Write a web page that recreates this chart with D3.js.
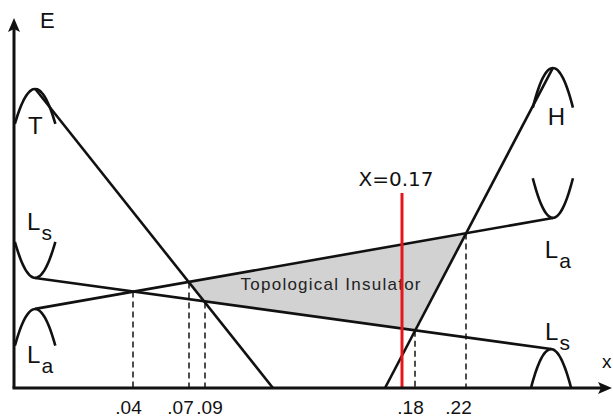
<!DOCTYPE html>
<html>
<head>
<meta charset="utf-8">
<script src="https://cdn.jsdelivr.net/npm/d3@7"></script>
<style>
    body { margin: 0; background: #fff; }
    svg { display: block; font-family: "Liberation Sans", Arial, sans-serif; }
</style>
</head>
<body>
<svg id="chart" width="613" height="418"></svg>
<script>
// labelled compositions on the (schematic, not to scale) x axis
const tickValues = [0.04, 0.07, 0.09, 0.18, 0.22];
const tickLabels = ['.04', '.07', '.09', '.18', '.22'];
// which two bands cross at each labelled composition
const tickCrossings = [['Ls', 'La'], ['T', 'La'], ['T', 'Ls'], ['H', 'Ls'], ['H', 'La']];

const markerX = 0.17;
const markerTop = 53;
const markerLabel = 'X=0.17';

// band edges: straight lines from start to end, [composition, energy]
const bandNames = ['T', 'H', 'Ls', 'La'];
const bandStart = [[0.0071, 81.3], [0.1631, 0], [0.0071, 29.9], [0.0071, 21.5]];
const bandEnd = [[0.1176, 0], [0.2438, 87.0], [0.2433, 10.6], [0.2438, 46.2]];

// little dispersion sketches at both ends: vertex, half width, rise of the ends
const arcNames = ['T', 'Ls', 'La', 'H', 'La', 'Ls'];
const arcVertex = [[0.0071, 81.3], [0.0071, 29.9], [0.0071, 21.5], [0.2438, 87.0], [0.2438, 46.2], [0.2433, 10.6]];
const arcHalfWidth = [0.0068, 0.0068, 0.0068, 0.0055, 0.0055, 0.0055];
const arcRise = [-9.5, 9.8, -10, -10.8, 10.8, -10.6];

const regionLabel = 'Topological Insulator';

(function() {
    let svg = d3.select('#chart');

    // piecewise scale, the drawing is a sketch and the ticks are not evenly spaced
    let x = d3.scaleLinear()
        .domain([0, 0.04, 0.07, 0.09, 0.17, 0.18, 0.22, 0.26])
        .range([14, 133, 189, 205, 402, 415, 466, 612]);
    let y = d3.scaleLinear().domain([0, 100]).range([388, 20]);

    let bands = bandNames.map((name, i) => ({
        name: name,
        p0: [x(bandStart[i][0]), y(bandStart[i][1])],
        p1: [x(bandEnd[i][0]), y(bandEnd[i][1])]
    }));
    let bandMap = new Map(bands.map(b => [b.name, b]));

    function yAt(band, px) {
        let t = (px - band.p0[0]) / (band.p1[0] - band.p0[0]);
        return band.p0[1] + t * (band.p1[1] - band.p0[1]);
    }

    function intersect(a, b) {
        let ma = (a.p1[1] - a.p0[1]) / (a.p1[0] - a.p0[0]);
        let mb = (b.p1[1] - b.p0[1]) / (b.p1[0] - b.p0[0]);
        let px = (b.p0[1] - a.p0[1] + ma * a.p0[0] - mb * b.p0[0]) / (ma - mb);
        return [px, yAt(a, px)];
    }

    // shaded region between the four band edges
    let corners = [['T', 'La'], ['La', 'H'], ['H', 'Ls'], ['Ls', 'T']]
        .map(pair => intersect(bandMap.get(pair[0]), bandMap.get(pair[1])));

    svg.append('path')
        .attr('d', 'M' + corners.join('L') + 'Z')
        .attr('fill', '#d2d2d2');

    let cx = d3.mean(corners, c => c[0]);
    let cy = d3.mean(corners, c => c[1]);
    svg.append('text')
        .attr('x', cx - 78)
        .attr('y', cy + 3)
        .attr('font-size', 17)
        .attr('textLength', 180)
        .attr('fill', '#222')
        .text(regionLabel);

    // dashed drop lines from the crossings
    svg.append('g').selectAll('line')
        .data(tickValues)
        .join('line')
        .attr('x1', d => x(d))
        .attr('x2', d => x(d))
        .attr('y1', (d, i) => yAt(bandMap.get(tickCrossings[i][0]), x(d)))
        .attr('y2', y(0))
        .attr('stroke', '#222')
        .attr('stroke-width', 1.6)
        .attr('stroke-dasharray', '6,4');

    // band edges
    svg.append('g').selectAll('line')
        .data(bands)
        .join('line')
        .attr('x1', d => d.p0[0])
        .attr('y1', d => d.p0[1])
        .attr('x2', d => d.p1[0])
        .attr('y2', d => d.p1[1])
        .attr('stroke', '#111')
        .attr('stroke-width', 2.6);

    // parabolas
    let arcLine = d3.line().x(d => x(d[0])).y(d => y(d[1])).curve(d3.curveBasis);
    let arcs = arcNames.map((name, i) => {
        let pts = d3.range(-1, 1.001, 0.1).map(t => [
            arcVertex[i][0] + t * arcHalfWidth[i],
            arcVertex[i][1] + arcRise[i] * t * t
        ]);
        return {name: name, pts: pts, vx: x(arcVertex[i][0]), vy: y(arcVertex[i][1])};
    });

    svg.append('g').selectAll('path')
        .data(arcs)
        .join('path')
        .attr('d', d => arcLine(d.pts))
        .attr('fill', 'none')
        .attr('stroke', '#111')
        .attr('stroke-width', 2.6);

    // label placement relative to each parabola vertex
    let labelOffsets = [[-7, 45], [-8, -48], [-8, 54], [-5, 57], [-8, 40], [-6, -9]];
    let labels = svg.append('g').selectAll('text')
        .data(arcs)
        .join('text')
        .attr('x', (d, i) => d.vx + labelOffsets[i][0])
        .attr('y', (d, i) => d.vy + labelOffsets[i][1])
        .attr('font-size', 24)
        .attr('fill', '#111');
    labels.append('tspan').text(d => d.name[0]);
    labels.filter(d => d.name.length > 1)
        .append('tspan')
        .attr('dy', 10)
        .attr('dx', 1)
        .attr('font-size', 21)
        .text(d => d.name.slice(1));

    // red composition marker
    svg.append('line')
        .attr('x1', x(markerX))
        .attr('x2', x(markerX))
        .attr('y1', y(markerTop))
        .attr('y2', y(0))
        .attr('stroke', '#e3161c')
        .attr('stroke-width', 3);

    svg.append('text')
        .attr('x', x(markerX) - 6)
        .attr('y', y(markerTop) - 7)
        .attr('text-anchor', 'middle')
        .attr('font-family', '"DejaVu Sans", sans-serif')
        .attr('font-size', 20)
        .attr('fill', '#111')
        .text(markerLabel);

    // axes with arrow heads
    let defs = svg.append('defs');
    defs.append('marker')
        .attr('id', 'arrow')
        .attr('viewBox', '0 0 14 12')
        .attr('refX', 6)
        .attr('refY', 6)
        .attr('markerWidth', 14)
        .attr('markerHeight', 12)
        .attr('markerUnits', 'userSpaceOnUse')
        .attr('orient', 'auto')
        .append('path')
        .attr('d', 'M0,0L14,6L0,12L3,6Z')
        .attr('fill', '#111');

    svg.append('line')
        .attr('x1', x(0)).attr('y1', y(0))
        .attr('x2', x(0)).attr('y2', y(100) + 6)
        .attr('stroke', '#111').attr('stroke-width', 3)
        .attr('marker-end', 'url(#arrow)');

    svg.append('line')
        .attr('x1', x(0) - 1.5).attr('y1', y(0))
        .attr('x2', x(0.26) - 8).attr('y2', y(0))
        .attr('stroke', '#111').attr('stroke-width', 3)
        .attr('marker-end', 'url(#arrow)');

    let labelNudge = [-5, -9, 4, -5, -8];
    let axis = d3.axisBottom(x)
        .tickValues(tickValues)
        .tickFormat((d, i) => tickLabels[i])
        .tickSize(0)
        .tickPadding(13);
    let gx = svg.append('g')
        .attr('transform', `translate(0,${y(0)})`)
        .call(axis);
    gx.select('.domain').remove();
    gx.selectAll('text')
        .attr('dx', (d, i) => labelNudge[i])
        .attr('font-size', 19)
        .attr('font-family', '"Liberation Sans", Arial, sans-serif')
        .attr('fill', '#111');

    svg.append('text')
        .attr('x', x(0) + 26)
        .attr('y', 28)
        .attr('font-size', 22)
        .attr('fill', '#111')
        .text('E');

    svg.append('text')
        .attr('x', x(0.26) - 10)
        .attr('y', y(0) - 20)
        .attr('font-size', 19)
        .attr('fill', '#111')
        .text('x');
})();
</script>
</body>
</html>
